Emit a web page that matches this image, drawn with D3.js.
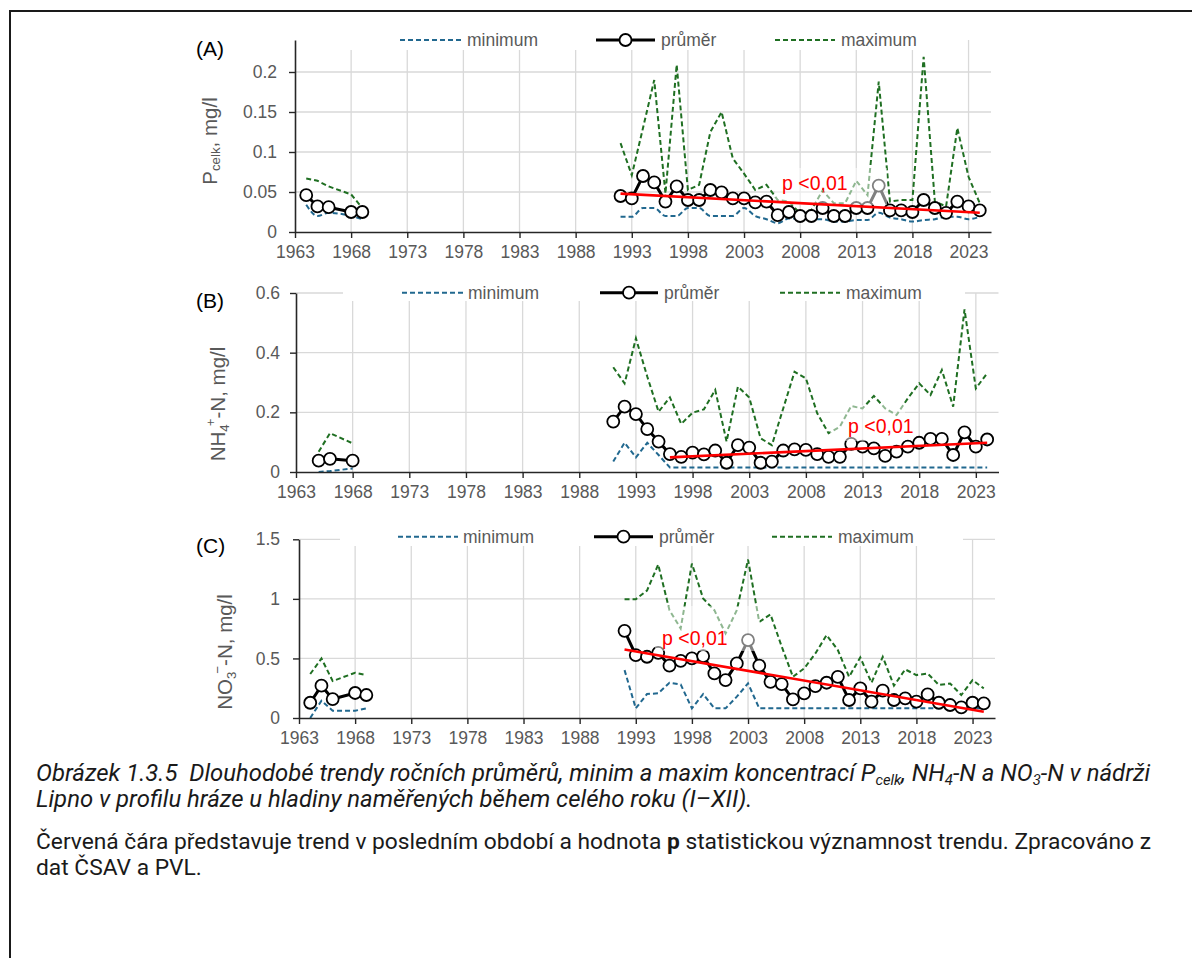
<!DOCTYPE html>
<html><head><meta charset="utf-8">
<script src="https://cdn.jsdelivr.net/npm/d3@7"></script>
<style>body{margin:0;background:#fff}svg{display:block}</style>
</head><body>
<svg id="c" width="1192" height="958"></svg>
<script>
// ---------------- DATA ----------------
const xTickYears = [1963,1968,1973,1978,1983,1988,1993,1998,2003,2008,2013,2018,2023];
const xTickLabels = ["1963","1968","1973","1978","1983","1988","1993","1998","2003","2008","2013","2018","2023"];
const legendLabels = ["minimum","průměr","maximum"];
const pLabel = "p <0,01";

const yearsRecent = [1992,1993,1994,1995,1996,1997,1998,1999,2000,2001,2002,2003,2004,2005,2006,2007,2008,2009,2010,2011,2012,2013,2014,2015,2016,2017,2018,2019,2020,2021,2022,2023,2024];
const yearsRecentB = [1991,1992,1993,1994,1995,1996,1997,1998,1999,2000,2001,2002,2003,2004,2005,2006,2007,2008,2009,2010,2011,2012,2013,2014,2015,2016,2017,2018,2019,2020,2021,2022,2023,2024];

// (A) P celk
const yTicksA = [0,0.05,0.1,0.15,0.2];
const yLabelsA = ["0","0.05","0.1","0.15","0.2"];
const yearsEarlyA = [1964,1965,1966,1968,1969];
const meanEarlyA = [0.046,0.032,0.031,0.025,0.025];
const minEarlyA  = [0.034,0.020,0.024,0.020,0.016];
const maxEarlyA  = [0.067,0.064,0.057,0.047,0.030];
const meanA = [0.045,0.042,0.070,0.062,0.038,0.057,0.040,0.040,0.0525,0.0496,0.042,0.042,0.037,0.038,0.021,0.025,0.020,0.020,0.030,0.020,0.020,0.030,0.030,0.058,0.027,0.027,0.025,0.040,0.030,0.024,0.038,0.032,0.027];
const maxA  = [0.111,0.071,0.130,0.190,0.048,0.209,0.0525,0.059,0.125,0.150,0.092,0.073,0.0525,0.059,0.040,0.038,0.023,0.0275,0.052,0.036,0.036,0.064,0.046,0.188,0.038,0.040,0.040,0.219,0.038,0.032,0.130,0.069,0.036];
const minA  = [0.019,0.019,0.030,0.030,0.020,0.020,0.030,0.030,0.020,0.020,0.020,0.030,0.020,0.016,0.011,0.017,0.017,0.016,0.016,0.013,0.013,0.015,0.015,0.024,0.018,0.016,0.013,0.015,0.016,0.019,0.019,0.016,0.019];
const trendYearsA = [1992,2024];
const trendA = [0.048,0.024];

// (B) NH4-N
const yTicksB = [0,0.2,0.4,0.6];
const yLabelsB = ["0","0.2","0.4","0.6"];
const yearsEarlyB = [1965,1966,1968];
const meanEarlyB = [0.038,0.044,0.038];
const minEarlyB  = [0.000,0.003,0.012];
const maxEarlyB  = [0.068,0.130,0.096];
const meanB = [0.169,0.219,0.194,0.144,0.102,0.060,0.051,0.065,0.059,0.072,0.031,0.090,0.082,0.031,0.035,0.072,0.076,0.074,0.060,0.051,0.051,0.094,0.085,0.079,0.054,0.068,0.085,0.098,0.111,0.111,0.057,0.133,0.085,0.109];
const maxB  = [0.351,0.297,0.448,0.320,0.202,0.250,0.161,0.199,0.210,0.275,0.102,0.286,0.250,0.113,0.090,0.213,0.336,0.314,0.197,0.130,0.152,0.221,0.213,0.255,0.213,0.191,0.247,0.297,0.258,0.342,0.219,0.545,0.280,0.331];
const minB  = [0.035,0.098,0.049,0.098,0.057,0.015,0.015,0.015,0.015,0.015,0.015,0.015,0.015,0.015,0.015,0.015,0.015,0.015,0.015,0.015,0.015,0.015,0.015,0.015,0.015,0.015,0.015,0.015,0.015,0.015,0.015,0.015,0.015,0.015];
const trendYearsB = [1996,2024];
const trendB = [0.049,0.098];

// (C) NO3-N
const yTicksC = [0,0.5,1,1.5];
const yLabelsC = ["0","0.5","1","1.5"];
const yearsEarlyC = [1964,1965,1966,1968,1969];
const meanEarlyC = [0.128,0.271,0.159,0.210,0.193];
const minEarlyC  = [0.000,0.145,0.061,0.061,0.081];
const maxEarlyC  = [0.369,0.500,0.310,0.380,0.360];
const meanC = [0.732,0.528,0.514,0.547,0.439,0.480,0.500,0.520,0.374,0.318,0.458,0.654,0.439,0.304,0.285,0.156,0.207,0.268,0.296,0.346,0.151,0.249,0.137,0.229,0.151,0.165,0.137,0.198,0.128,0.109,0.089,0.128,0.123];
const maxC  = [0.997,0.997,1.070,1.288,0.905,0.751,1.296,1.003,0.905,0.709,0.905,1.330,0.807,0.869,0.600,0.346,0.416,0.542,0.696,0.570,0.346,0.508,0.296,0.514,0.271,0.408,0.360,0.374,0.277,0.290,0.193,0.318,0.249];
const minC  = [0.402,0.081,0.201,0.207,0.296,0.282,0.081,0.201,0.081,0.081,0.179,0.290,0.081,0.081,0.081,0.081,0.081,0.081,0.081,0.081,0.081,0.081,0.081,0.081,0.081,0.081,0.081,0.081,0.081,0.081,0.081,0.081,0.081];
const trendYearsC = [1992,2024];
const trendC = [0.575,0.053];

// ---------------- STYLE ----------------
const BLUE = "#21688f", GREEN = "#1f6f22", GRID = "#d9d9d9", AXIS = "#262626", TXT = "#595959";
const FONT = "'Liberation Sans', Arial, sans-serif";

const svg = d3.select("#c");
svg.append("rect").attr("x",10).attr("y",11).attr("width",1300).attr("height",1100)
  .attr("fill","none").attr("stroke","#1a1a1a").attr("stroke-width",2);

const zip = (xs, ys) => xs.map((v,i)=>[v, ys[i]]);

function panel(cfg, d) {
  const g = svg.append("g").attr("font-family", FONT);
  const x = d3.scaleLinear().domain([1963,2025]).range([cfg.x0, cfg.x1]);
  const y = d3.scaleLinear().domain([0, cfg.ymax]).range([cfg.yb, cfg.yt]);

  // gridlines
  g.append("g").selectAll("line").data(d.yTicks.filter(v=>v>0)).join("line")
    .attr("x1",cfg.x0).attr("x2",cfg.x1).attr("y1",v=>y(v)).attr("y2",v=>y(v))
    .attr("stroke",GRID).attr("stroke-width",1.3);
  g.append("g").selectAll("line").data(xTickYears.slice(1)).join("line")
    .attr("x1",v=>x(v)).attr("x2",v=>x(v)).attr("y1",cfg.yt).attr("y2",cfg.yb)
    .attr("stroke",GRID).attr("stroke-width",1.3);

  // legend background
  g.append("rect").attr("x",cfg.leg.box[0]).attr("y",cfg.leg.box[1])
    .attr("width",cfg.leg.box[2]-cfg.leg.box[0]).attr("height",cfg.leg.box[3]-cfg.leg.box[1])
    .attr("fill","#fff");

  const line = d3.line().x(p=>x(p[0])).y(p=>y(p[1]));
  const lineMin = d3.line().x(p=>x(p[0])).y(p=>y(p[1])).curve(cfg.smoothMin ? d3.curveMonotoneX : d3.curveLinear);
  const segs = [
    {yr:d.yearsEarly, mean:d.meanEarly, min:d.minEarly, max:d.maxEarly},
    {yr:d.years, mean:d.mean, min:d.min, max:d.max}
  ];
  segs.forEach(s=>{
    g.append("path").attr("d", lineMin(zip(s.yr,s.min)))
      .attr("fill","none").attr("stroke",BLUE).attr("stroke-width",2).attr("stroke-dasharray","5,3");
  });
  segs.forEach(s=>{
    g.append("path").attr("d", line(zip(s.yr,s.mean)))
      .attr("fill","none").attr("stroke","#000").attr("stroke-width",3);
  });
  segs.forEach(s=>{
    g.append("path").attr("d", line(zip(s.yr,s.max)))
      .attr("fill","none").attr("stroke",GREEN).attr("stroke-width",2).attr("stroke-dasharray","5,3");
  });
  segs.forEach(s=>{
    g.append("g").selectAll("circle").data(zip(s.yr,s.mean)).join("circle")
      .attr("cx",p=>x(p[0])).attr("cy",p=>y(p[1])).attr("r",6)
      .attr("fill","#fff").attr("stroke","#000").attr("stroke-width",1.8);
  });

  // semi-transparent text box of p label
  const pb = cfg.pbox;
  g.append("rect").attr("x",pb[0]).attr("y",pb[1]).attr("width",pb[2]-pb[0]).attr("height",pb[3]-pb[1])
    .attr("fill","#fff").attr("fill-opacity",0.5);

  // trend
  g.append("path").attr("d", line(zip(d.trendYears, d.trend)))
    .attr("fill","none").attr("stroke","#ff0000").attr("stroke-width",2.6);

  g.append("text").attr("x",cfg.ptext[0]).attr("y",cfg.ptext[1]).attr("fill","#ff0000")
    .attr("font-size",19.5).text(pLabel);

  // axes
  const ya = g.append("g").attr("transform",`translate(${cfg.x0},0)`)
    .call(d3.axisLeft(y).tickValues(d.yTicks).tickFormat((v,i)=>d.yLabels[i]).tickSize(6).tickSizeOuter(0).tickPadding(cfg.ypad));
  const xa = g.append("g").attr("transform",`translate(0,${cfg.yb})`)
    .call(d3.axisBottom(x).tickValues(xTickYears).tickFormat((v,i)=>xTickLabels[i]).tickSize(6).tickSizeOuter(0).tickPadding(8));
  [ya,xa].forEach(a=>{
    a.select(".domain").attr("stroke",AXIS).attr("stroke-width",1.6);
    a.selectAll(".tick line").attr("stroke",AXIS).attr("stroke-width",1.4);
    a.selectAll(".tick text").attr("fill",TXT).attr("font-size",17.5).attr("font-family",FONT);
  });

  // legend
  const L = cfg.leg, ly = L.y;
  g.append("line").attr("x1",L.min[0]).attr("x2",L.min[1]).attr("y1",ly).attr("y2",ly)
    .attr("stroke",BLUE).attr("stroke-width",2).attr("stroke-dasharray","5,3");
  g.append("line").attr("x1",L.mean[0]).attr("x2",L.mean[1]).attr("y1",ly).attr("y2",ly)
    .attr("stroke","#000").attr("stroke-width",3);
  g.append("circle").attr("cx",(L.mean[0]+L.mean[1])/2).attr("cy",ly).attr("r",6)
    .attr("fill","#fff").attr("stroke","#000").attr("stroke-width",1.8);
  g.append("line").attr("x1",L.max[0]).attr("x2",L.max[1]).attr("y1",ly).attr("y2",ly)
    .attr("stroke",GREEN).attr("stroke-width",2).attr("stroke-dasharray","5,3");
  [[L.min[1]+5,legendLabels[0]],[L.mean[1]+6,legendLabels[1]],[L.max[1]+6,legendLabels[2]]].forEach(([tx,t])=>{
    g.append("text").attr("x",tx).attr("y",ly).attr("dy","0.35em").attr("fill",TXT)
      .attr("font-size",17.5).text(t);
  });

  // panel label
  g.append("text").attr("x",196).attr("y",cfg.labelY).attr("fill","#000").attr("font-size",21).text(cfg.label);

  // y title
  const yt = g.append("text").attr("transform",`translate(${cfg.title[0]},${cfg.title[1]}) rotate(-90)`)
    .attr("text-anchor","middle").attr("dominant-baseline","middle").attr("fill",TXT).attr("font-size",20.5);
  cfg.titleParts(yt);
}

panel({x0:295,x1:991,yt:40,yb:232,ymax:0.24,ypad:12,smoothMin:true,label:"(A)",labelY:56,
  title:[212,141],
  pbox:[775,168,887,205], ptext:[782,190],
  leg:{y:40, box:[343,29,965,50], min:[400,462], mean:[596,655], max:[775,835]},
  titleParts:t=>{ t.append("tspan").text("P"); t.append("tspan").attr("font-size","0.65em").attr("dy","0.3em").text("celk");
    t.append("tspan").attr("dy","-0.195em").text(", mg/l"); }
},{yTicks:yTicksA,yLabels:yLabelsA,yearsEarly:yearsEarlyA,meanEarly:meanEarlyA,minEarly:minEarlyA,maxEarly:maxEarlyA,
  years:yearsRecent,mean:meanA,min:minA,max:maxA,trendYears:trendYearsA,trend:trendA});

panel({x0:296,x1:998.5,yt:293,yb:472,ymax:0.6,ypad:10,label:"(B)",labelY:308,
  title:[220,404],
  pbox:[830,405,905,441], ptext:[848,433],
  leg:{y:292.7, box:[343,282,965,301], min:[402,463], mean:[600,658], max:[780,840]},
  titleParts:t=>{ t.append("tspan").text("NH"); t.append("tspan").attr("font-size","0.65em").attr("dy","0.35em").text("4");
    t.append("tspan").attr("font-size","0.65em").attr("dx","-0.15em").attr("dy","-1.0em").text("+");
    t.append("tspan").attr("dy","0.4225em").text("-N, mg/l"); }
},{yTicks:yTicksB,yLabels:yLabelsB,yearsEarly:yearsEarlyB,meanEarly:meanEarlyB,minEarly:minEarlyB,maxEarly:maxEarlyB,
  years:yearsRecentB,mean:meanB,min:minB,max:maxB,trendYears:trendYearsB,trend:trendB});

panel({x0:299,x1:995,yt:539.3,yb:718,ymax:1.5,ypad:13,label:"(C)",labelY:553,
  title:[227,652],
  pbox:[655,606,760,651], ptext:[662,645],
  leg:{y:536.7, box:[340,526,963,546], min:[398,458], mean:[594,653], max:[772,832]},
  titleParts:t=>{ t.append("tspan").text("NO"); t.append("tspan").attr("font-size","0.65em").attr("dy","0.35em").text("3");
    t.append("tspan").attr("font-size","0.65em").attr("dx","-0.15em").attr("dy","-1.0em").text("\u2212");
    t.append("tspan").attr("dy","0.4225em").text("-N, mg/l"); }
},{yTicks:yTicksC,yLabels:yLabelsC,yearsEarly:yearsEarlyC,meanEarly:meanEarlyC,minEarly:minEarlyC,maxEarly:maxEarlyC,
  years:yearsRecent,mean:meanC,min:minC,max:maxC,trendYears:trendYearsC,trend:trendC});

// ---------------- CAPTION ----------------
const CAPFONT = "Roboto, 'Liberation Sans', sans-serif";
function rich(y, parts, italic, targetW) {
  const t = svg.append("text").attr("x",36).attr("y",y).attr("font-family",CAPFONT)
    .attr("font-size",19).attr("fill","#1a1a1a").attr("font-style", italic ? "italic" : "normal");
  let back = false;
  parts.forEach(p=>{
    const s = t.append("tspan").text(p.t);
    if (back) { s.attr("dy","-0.17em"); back = false; }
    if (p.sub) { s.attr("font-size","0.62em").attr("dy","0.274em"); back = true; }
    if (p.b) s.attr("font-weight","bold");
  });
  if (targetW) {
    const w = t.node().getComputedTextLength();
    t.attr("font-size", 19 * targetW / w);
  }
  return t;
}
const c1 = rich(781, [{t:"Obrázek 1.3.5\u00a0 Dlouhodobé trendy ročních průměrů, minim a maxim koncentrací P"},{t:"celk",sub:true},
  {t:", NH"},{t:"4",sub:true},{t:"-N a NO"},{t:"3",sub:true},{t:"-N v nádrži"}], true, 1115);
rich(807, [{t:"Lipno v profilu hráze u hladiny naměřených během celého roku (I–XII)."}], true).attr("font-size", c1.attr("font-size"));
const c3 = rich(849, [{t:"Červená čára představuje trend v posledním období a hodnota "},{t:"p",b:true},
  {t:" statistickou významnost trendu. Zpracováno z"}], false, 1116);
rich(875, [{t:"dat ČSAV a PVL."}], false).attr("font-size", c3.attr("font-size"));
</script>
</body></html>
